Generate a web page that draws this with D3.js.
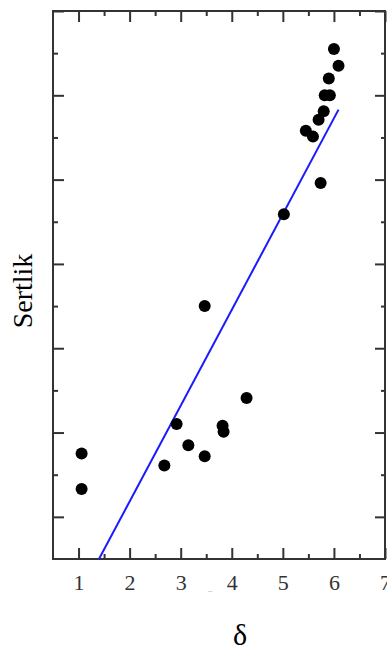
<!DOCTYPE html>
<html>
<head>
<meta charset="utf-8">
<script src="https://cdn.jsdelivr.net/npm/d3@7"></script>
<style>
  body { margin: 0; background: #fff; }
  .axis text { font-family: "Liberation Serif", serif; font-size: 22px; fill: #333; }
  .axis line { stroke: #333; stroke-width: 2; }
  .axis path { display: none; }
</style>
</head>
<body>
<div class="chart"></div>
<script>
// data
const deltaValues = [1.06, 1.06, 2.68, 2.92, 3.15, 3.47, 3.82, 3.84, 4.29, 3.47,
                     5.02, 5.74, 5.45, 5.59, 5.70, 5.80, 5.82, 5.92, 5.90, 6.00, 6.09];
const hardnessValues = [0.75, 0.33, 0.61, 1.10, 0.85, 0.72, 1.08, 1.01, 1.41, 2.50,
                        3.59, 3.96, 4.58, 4.51, 4.71, 4.81, 5.00, 5.00, 5.20, 5.55, 5.35];
const fitX = [1.40, 6.09];
const fitY = [-0.5, 4.83];
const xMajorTicks = [1, 2, 3, 4, 5, 6, 7];
const xMinorTicks = [1.5, 2.5, 3.5, 4.5, 5.5, 6.5];
const yMajorTicks = [0, 1, 2, 3, 4, 5, 6];
const yMinorTicks = [0.5, 1.5, 2.5, 3.5, 4.5, 5.5];

const points = deltaValues.map((d, i) => ({delta: d, hardness: hardnessValues[i]}));
const fitLine = fitX.map((d, i) => ({delta: d, hardness: fitY[i]}));

//Margin convention
const margin = {top: 11, left: 53, bottom: 94, right: 2};
const width = 387 - margin.left - margin.right;
const height = 653 - margin.top - margin.bottom;

const svg = d3.select('.chart').append('svg')
    .attr('width', 387)
    .attr('height', 653);

const g = svg.append('g')
    .attr('transform', 'translate(' + margin.left + ',' + margin.top + ')');

//Scales
const xScale = d3.scaleLinear().domain([0.5, 7]).range([0, width]);
const yScale = d3.scaleLinear().domain([-0.5, 6]).range([height, 0]);

// axes: ticks point inward on all four sides
function addAxis(axisFn, scale, ticks, size, transform, labels) {
    const axis = axisFn(scale)
        .tickValues(ticks)
        .tickSizeInner(-size)
        .tickSizeOuter(0)
        .tickPadding(15)
        .tickFormat(labels ? d3.format('d') : '');
    g.append('g')
        .attr('class', 'axis')
        .attr('transform', transform)
        .call(axis);
}

addAxis(d3.axisBottom, xScale, xMajorTicks, 11, `translate(0,${height})`, true);
addAxis(d3.axisBottom, xScale, xMinorTicks, 5, `translate(0,${height})`, false);
addAxis(d3.axisTop, xScale, xMajorTicks, 11, 'translate(0,0)', false);
addAxis(d3.axisTop, xScale, xMinorTicks, 5, 'translate(0,0)', false);
addAxis(d3.axisLeft, yScale, yMajorTicks, 11, 'translate(0,0)', false);
addAxis(d3.axisLeft, yScale, yMinorTicks, 5, 'translate(0,0)', false);
addAxis(d3.axisRight, yScale, yMajorTicks, 10, `translate(${width},0)`, false);
addAxis(d3.axisRight, yScale, yMinorTicks, 4, `translate(${width},0)`, false);

// frame
g.append('rect')
    .attr('width', width)
    .attr('height', height)
    .attr('fill', 'none')
    .attr('stroke', '#333')
    .attr('stroke-width', 2);

// regression line
g.append('path')
    .datum(fitLine)
    .attr('fill', 'none')
    .attr('stroke', '#1a1aff')
    .attr('stroke-width', 2)
    .attr('d', d3.line().x(d => xScale(d.delta)).y(d => yScale(d.hardness)));

// points
g.selectAll('circle')
    .data(points)
    .enter()
    .append('circle')
    .attr('cx', d => xScale(d.delta))
    .attr('cy', d => yScale(d.hardness))
    .attr('r', 6)
    .attr('fill', '#000');

// small stray mark under the axis
svg.append('text')
    .attr('x', 210)
    .attr('y', 591)
    .attr('text-anchor', 'middle')
    .style('font-family', 'Liberation Serif, serif')
    .style('font-size', '9px')
    .attr('fill', '#aaa')
    .text('_');

// y label
svg.append('text')
    .attr('transform', 'translate(32,291) rotate(-90)')
    .attr('text-anchor', 'middle')
    .style('font-family', 'Liberation Serif, serif')
    .style('font-size', '28px')
    .attr('fill', '#000')
    .text('Sertlik');

// x label
svg.append('text')
    .attr('x', 240)
    .attr('y', 645)
    .attr('text-anchor', 'middle')
    .style('font-family', 'Liberation Serif, serif')
    .style('font-size', '30px')
    .attr('fill', '#000')
    .text('δ');
</script>
</body>
</html>
